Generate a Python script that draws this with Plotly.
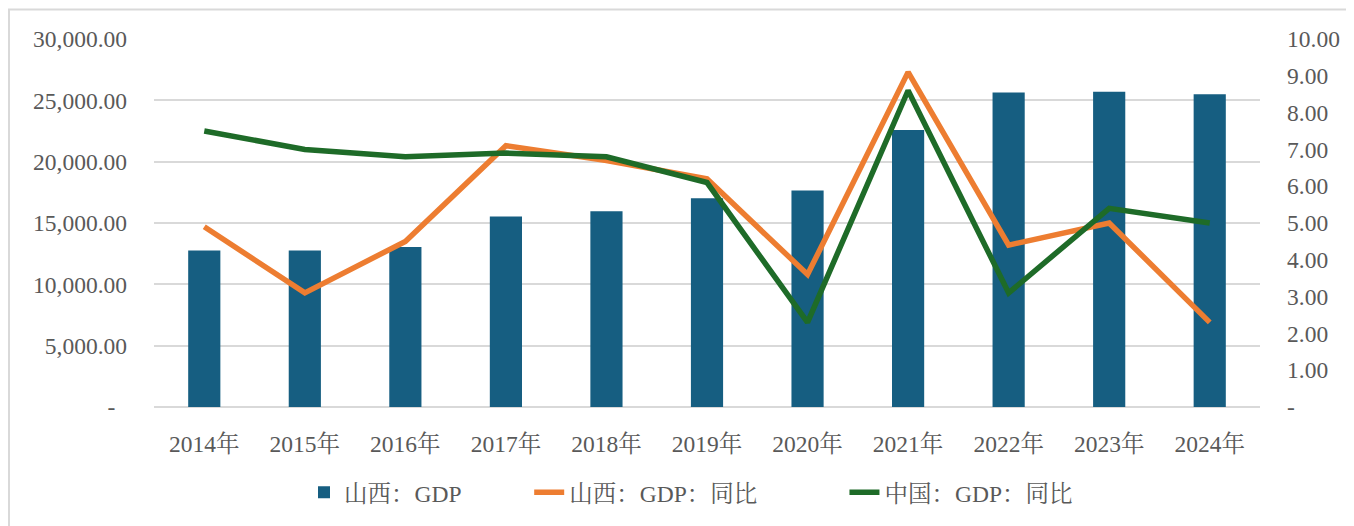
import plotly.graph_objects as go

years = ["2014年", "2015年", "2016年", "2017年", "2018年", "2019年", "2020年", "2021年", "2022年", "2023年", "2024年"]
shanxi_gdp = [12761, 12766, 13050, 15528, 15958, 17027, 17652, 22590, 25643, 25698, 25496]
shanxi_yoy = [4.9, 3.1, 4.5, 7.1, 6.7, 6.2, 3.6, 9.1, 4.4, 5.0, 2.3]
china_yoy = [7.5, 7.0, 6.8, 6.9, 6.8, 6.1, 2.3, 8.6, 3.1, 5.4, 5.0]

left_ticks = [0, 5000, 10000, 15000, 20000, 25000, 30000]
left_text = ["-\u2007", "5,000.00", "10,000.00", "15,000.00", "20,000.00", "25,000.00", "30,000.00"]
right_ticks = list(range(0, 11))
right_text = ["-"] + [f"{v:.2f}" for v in range(1, 11)]

FONT = "Times New Roman, Liberation Serif, Noto Serif CJK SC, Noto Sans CJK SC, serif"
GRAY = "#595959"
GRID = "#D9D9D9"
FS = 23.5
PAD1 = "\u2002" * 5 + "\u2006"
PAD2 = "\u2002" * 7

fig = go.Figure()
fig.add_trace(go.Bar(x=years, y=shanxi_gdp, name="山西：GDP" + PAD1, marker=dict(color="#165E81", line=dict(width=0)),
                     width=0.32, yaxis="y"))
fig.add_trace(go.Scatter(x=years, y=shanxi_yoy, name="山西：GDP：同比" + PAD2, mode="lines",
                         line=dict(color="#ED7D31", width=5.5), yaxis="y2"))
fig.add_trace(go.Scatter(x=years, y=china_yoy, name="中国：GDP：同比", mode="lines",
                         line=dict(color="#1E6B28", width=5.5), yaxis="y2"))

# page body has an 8px margin: figure origin sits at (8, 8) in the screenshot
W, H = 1346, 518
ml, mt = 146, 30.7
mr = W - 1252
mb = H - 400.3
pw = W - ml - mr
ph = H - mt - mb

fig.update_layout(
    width=W, height=H,
    margin=dict(l=ml, r=mr, t=mt, b=mb, pad=0),
    paper_bgcolor="white", plot_bgcolor="white",
    font=dict(family=FONT, size=FS, color=GRAY),
    showlegend=True,
    legend=dict(orientation="h", x=(683 - ml) / pw, xanchor="center", y=(mt + ph - 485) / ph,
                yanchor="middle", font=dict(size=FS, color=GRAY), traceorder="normal"),
    xaxis=dict(showgrid=False, showline=False, zeroline=False, ticks="outside", ticklen=0,
               ticklabelstandoff=16, tickfont=dict(size=FS, color=GRAY)),
    yaxis=dict(range=[0, 30000], tickvals=left_ticks, ticktext=left_text, showgrid=True,
               gridcolor=GRID, gridwidth=1.5, zeroline=True, zerolinecolor=GRID, zerolinewidth=1.5,
               showline=False, ticklabelstandoff=26, tickfont=dict(size=FS, color=GRAY)),
    yaxis2=dict(range=[0, 10], tickvals=right_ticks, ticktext=right_text, overlaying="y", side="right",
                showgrid=False, zeroline=False, showline=False, ticklabelstandoff=26,
                tickfont=dict(size=FS, color=GRAY)),
    shapes=[dict(type="rect", xref="paper", yref="paper",
                 x0=(1 - ml) / pw, x1=(1360 - ml) / pw,
                 y0=(mt + ph - 540) / ph, y1=(mt + ph - 1) / ph,
                 line=dict(color=GRID, width=2), fillcolor="rgba(0,0,0,0)", layer="below")],
)

fig.write_html("out.html")
